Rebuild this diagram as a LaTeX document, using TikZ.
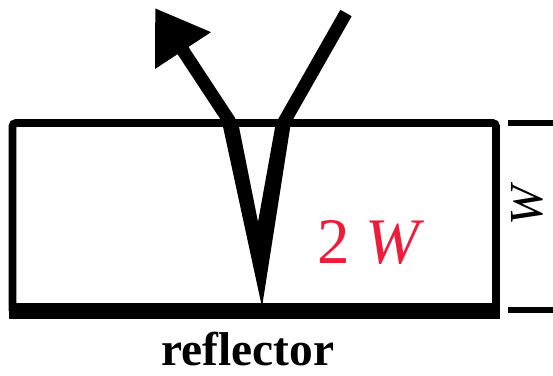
\documentclass[tikz,border=0pt]{standalone}
\usepackage{fontspec}
\setmainfont{Liberation Serif}
\usepackage{tikz}
\usetikzlibrary{arrows.meta}
\usepackage{xcolor}
\definecolor{slabRed}{HTML}{EE1C3A}
\tikzset{
  slab/.style={line width=4.5pt, draw=black, rounded corners=2pt},
  mirror/.style={line width=9.5pt, draw=black},
  tick/.style={line width=3pt, draw=black},
  rayin/.style={line width=7.4pt, draw=black},
  rayout/.style={-{Triangle[length=29pt,width=36pt]}, line width=7.4pt, draw=black},
  bigred/.style={font=\fontsize{37}{40}\selectfont\color{slabRed}, inner sep=0pt},
  sidelab/.style={font=\fontsize{27}{30}\selectfont\itshape, inner sep=0pt, text height=17.8pt, text depth=0pt}
}

\begin{document}
\begin{tikzpicture}[x=0.02cm,y=-0.02cm]
  \useasboundingbox (0,0) rectangle (553,375);
  % slab and reflector
  \draw[slab] (12.5,311) -- (12.5,123) -- (496,123) -- (496,311);
  \draw[mirror] (8.5,311) -- (500,311);
  % thickness marks
  \coordinate (tt) at (508,123);
  \coordinate (tb) at (508,310);
  \draw[tick] (tt) -- (553,123);
  \draw[tick] (tb) -- (553,310);
  \node[sidelab, rotate=90] (wlab) at (527,206) {W};
  % ray: in, down to reflector, back up
  \coordinate (src) at (346,13);
  \coordinate (inR) at (284,122);
  \coordinate (outL) at (230,122);
  \coordinate (dst) at (155,8);
  \coordinate (hit) at (262,307);
  \draw[rayin] (src) -- (inR);
  \draw[rayout] (outL) -- (dst);
  \fill (222,122) -- (hit) -- (291,122) -- (276,122) -- (258,222) -- (238,122) -- cycle;
  \node[bigred, anchor=base] (twoW) at (371,263) {2 \textit{W}};
  \node[anchor=base, inner sep=0pt, text depth=0pt, font=\fontsize{27}{30}\selectfont\bfseries] (refl) at (248,365) {reflector};
\end{tikzpicture}
\end{document}
